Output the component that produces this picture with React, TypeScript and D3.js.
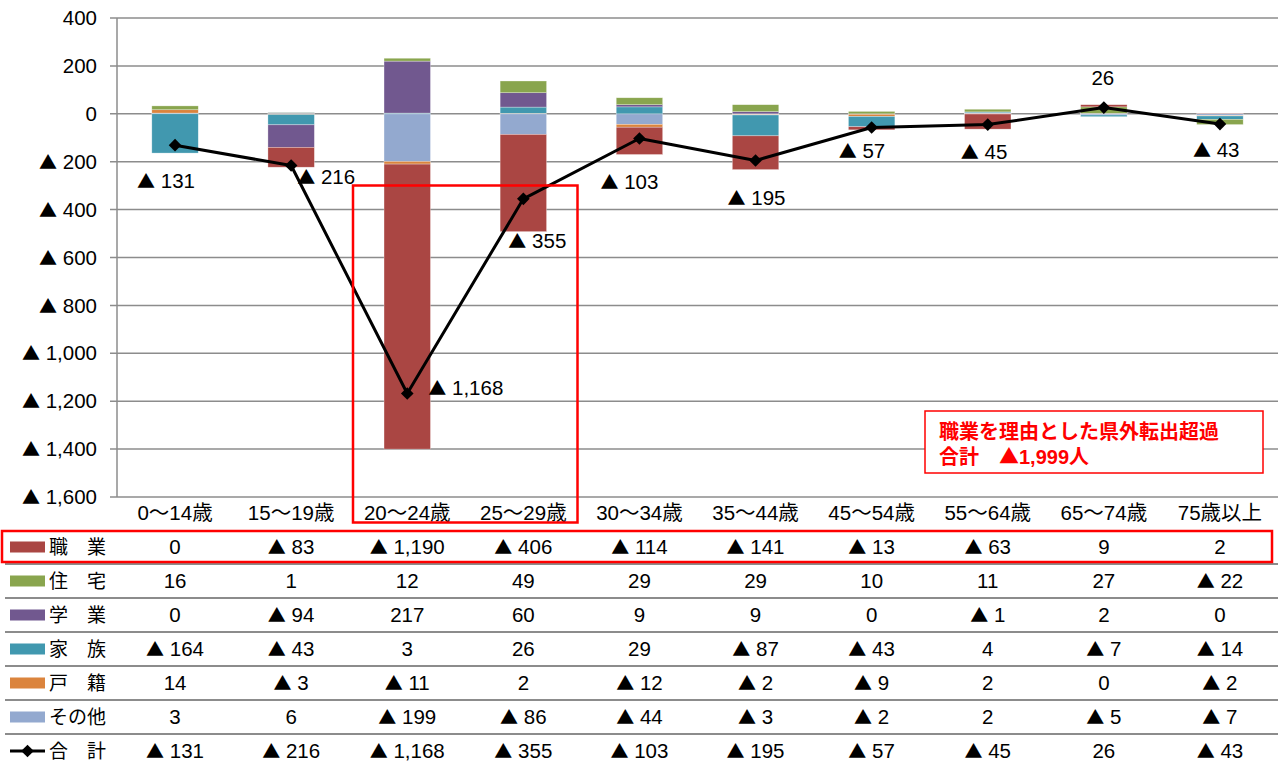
import React from "react";
import * as d3 from "d3";

const categories = ["0～14歳", "15～19歳", "20～24歳", "25～29歳", "30～34歳", "35～44歳", "45～54歳", "55～64歳", "65～74歳", "75歳以上"];

const shokugyo = [0, -83, -1190, -406, -114, -141, -13, -63, 9, 2];
const jutaku = [16, 1, 12, 49, 29, 29, 10, 11, 27, -22];
const gakugyo = [0, -94, 217, 60, 9, 9, 0, -1, 2, 0];
const kazoku = [-164, -43, 3, 26, 29, -87, -43, 4, -7, -14];
const koseki = [14, -3, -11, 2, -12, -2, -9, 2, 0, -2];
const sonota = [3, 6, -199, -86, -44, -3, -2, 2, -5, -7];
const total = [-131, -216, -1168, -355, -103, -195, -57, -45, 26, -43];

const yTicks = [400, 200, 0, -200, -400, -600, -800, -1000, -1200, -1400, -1600];

// table row order
const seriesRows = [
  { key: "shokugyo", label: "職　業", values: shokugyo, color: "#AA4643" },
  { key: "jutaku", label: "住　宅", values: jutaku, color: "#89A54E" },
  { key: "gakugyo", label: "学　業", values: gakugyo, color: "#71588F" },
  { key: "kazoku", label: "家　族", values: kazoku, color: "#4198AF" },
  { key: "koseki", label: "戸　籍", values: koseki, color: "#DB843D" },
  { key: "sonota", label: "その他", values: sonota, color: "#93A9CF" },
];
// plotting (stack) order
const stackOrder = ["sonota", "koseki", "kazoku", "gakugyo", "jutaku", "shokugyo"];

// label placement offsets for total data labels (dx, dy relative to marker)
const labelOffsets: [number, number, string][] = [
  [-9, 36, "middle"], [6, 11, "start"], [21, -6, "start"], [-15, 42, "start"],
  [-39, 43, "start"], [-28, 37, "start"], [-33, 23, "start"], [-27, 27, "start"],
  [-1, -30, "middle"], [-27, 26, "start"],
];

const CJK = "'Noto Sans CJK JP', sans-serif";
const FONT = "Arial, 'Liberation Sans', 'Noto Sans CJK JP', sans-serif";
const NUM_FS = 20.5;

const Num = ({ v }: { v: number }) => {
  const s = d3.format(",")(Math.abs(v));
  if (v < 0)
    return (
      <>
        <tspan fontFamily={CJK} fontSize="0.88em">▲</tspan>
        <tspan> {s}</tspan>
      </>
    );
  return <>{s}</>;
};

export default function App() {
  const W = 1283, H = 762;
  const left = 117, right = 1278, top = 18, bottom = 497;
  const x = d3.scaleBand<string>().domain(categories).range([left, right]).paddingInner(0.6).paddingOuter(0.3);
  const y = d3.scaleLinear().domain([-1600, 400]).range([bottom, top]);
  const bw = x.bandwidth();
  const cx = (c: string) => (x(c) as number) + bw / 2;

  const rows = categories.map((c, i) => {
    const o: any = { cat: c };
    seriesRows.forEach((s) => (o[s.key] = s.values[i]));
    return o;
  });
  const stacked = d3.stack<any>().keys(stackOrder).offset(d3.stackOffsetDiverging)(rows);
  const colorOf: Record<string, string> = {};
  seriesRows.forEach((s) => (colorOf[s.key] = s.color));

  const line = d3.line<number>().x((_, i) => cx(categories[i])).y((v) => y(v));
  const diamond = d3.symbol().type(d3.symbolSquare).size(80)();

  const tableTop = 530;
  const rowH = 34;
  const allRows = [...seriesRows.map((s) => ({ label: s.label, values: s.values, color: s.color, isLine: false })), { label: "合　計", values: total, color: "#000", isLine: true }];

  const grid = "#8C8C8C";

  return (
    <svg width={W} height={H} style={{ position: "absolute", left: 0, top: 0, background: "#fff" }} fontFamily={FONT}>
      {/* gridlines */}
      {yTicks.map((t) => (
        <g key={t}>
          <line x1={110} x2={right} y1={y(t)} y2={y(t)} stroke={grid} strokeWidth={1.5} />
          <text x={97} y={y(t)} dy="0.35em" textAnchor="end" fontSize={NUM_FS} fill="#000"><Num v={t} /></text>
        </g>
      ))}
      <line x1={left} x2={left} y1={top} y2={bottom} stroke={grid} strokeWidth={1.5} />

      {/* bars */}
      {stacked.map((layer) => (
        <g key={layer.key} fill={colorOf[layer.key]}>
          {layer.map((d, i) => {
            const y0 = y(d[1]);
            const y1 = y(d[0]);
            if (Math.abs(y1 - y0) < 0.01) return null;
            return <rect key={i} x={x(categories[i])} y={Math.min(y0, y1)} width={bw} height={Math.abs(y1 - y0)} stroke="#ffffff" strokeOpacity={0.5} strokeWidth={0.6} />;
          })}
        </g>
      ))}

      {/* total line */}
      <path d={line(total) || ""} fill="none" stroke="#000" strokeWidth={3} strokeLinejoin="round" />
      {total.map((v, i) => (
        <path key={i} d={diamond || ""} transform={`translate(${cx(categories[i])},${y(v)}) rotate(45)`} fill="#000" />
      ))}
      {total.map((v, i) => (
        <text key={"l" + i} x={cx(categories[i]) + labelOffsets[i][0]} y={y(v) + labelOffsets[i][1]} dy="0.35em" textAnchor={labelOffsets[i][2] as any} fontSize={NUM_FS} fill="#000"><Num v={v} /></text>
      ))}

      {/* category labels */}
      {categories.map((c) => (
        <text key={c} x={cx(c)} y={513} dy="0.35em" textAnchor="middle" fontSize={NUM_FS} fill="#000">{c}</text>
      ))}

      {/* data table */}
      {allRows.map((r, ri) => {
        const yc = tableTop + rowH * ri + rowH / 2;
        return (
          <g key={r.label}>
            {ri > 0 && <line x1={5} x2={right} y1={tableTop + rowH * ri} y2={tableTop + rowH * ri} stroke={grid} strokeWidth={1.8} />}
            {r.isLine ? (
              <g>
                <line x1={10} x2={45} y1={yc} y2={yc} stroke="#000" strokeWidth={3} />
                <path d={diamond || ""} transform={`translate(27.5,${yc}) rotate(45)`} fill="#000" />
              </g>
            ) : (
              <rect x={10} y={yc - 5.5} width={35} height={11} fill={r.color} />
            )}
            <text x={49} y={yc} dy="0.35em" fontSize={19} fill="#000">{r.label}</text>
            {r.values.map((v, i) => (
              <text key={i} x={cx(categories[i])} y={yc} dy="0.35em" textAnchor="middle" fontSize={NUM_FS} fill="#000"><Num v={v} /></text>
            ))}
          </g>
        );
      })}

      {/* highlight boxes */}
      <rect x={2} y={531} width={1270} height={31} fill="none" stroke="#FF0000" strokeWidth={2.5} />
      <rect x={353} y={185.5} width={224.5} height={337} fill="none" stroke="#FF0000" strokeWidth={2.5} />

      {/* annotation */}
      <rect x={925} y={411} width={338} height={62} fill="#fff" stroke="#FF0000" strokeWidth={1.5} />
      <text x={939} y={432} dy="0.35em" fontSize={20} fontWeight="bold" fill="#FF0000">職業を理由とした県外転出超過</text>
      <text x={939} y={457} dy="0.35em" fontSize={20} fontWeight="bold" fill="#FF0000">合計　<tspan fontFamily={CJK}>▲</tspan>1,999人</text>
    </svg>
  );
}
